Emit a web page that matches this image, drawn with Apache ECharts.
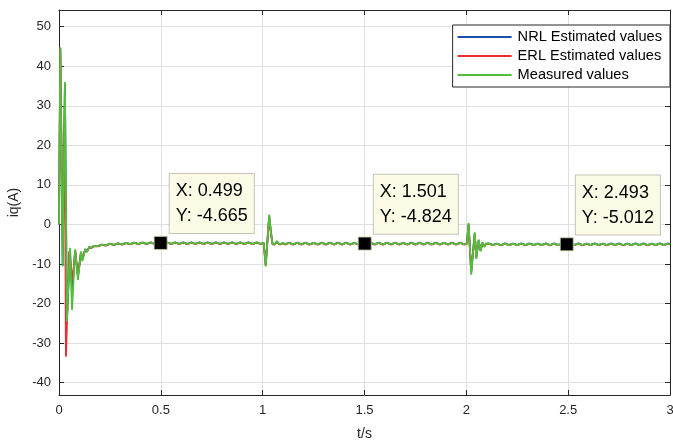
<!DOCTYPE html>
<html>
<head>
<meta charset="utf-8">
<script src="https://cdn.jsdelivr.net/npm/echarts@6/dist/echarts.min.js"></script>
<style>
  html, body { margin: 0; padding: 0; background: #fff; overflow: hidden; }
  #chart { width: 673px; height: 441px; }
</style>
</head>
<body>
<div id="chart"></div>
<script>
// q-axis current iq(A) over time t (s): start-up transient and two load steps

// start-up transient, measured and NRL estimate share these instants
const startT        = [0, 0.0064, 0.018, 0.029, 0.039, 0.054, 0.064, 0.079, 0.093, 0.108, 0.114, 0.129, 0.137, 0.149, 0.16, 0.17];
const startMeasured = [0, 44.8, -10.6, 36.0, -24.5, -5.9, -21.6, -6.3, -14.0, -6.8, -9.3, -6.3, -7.0, -5.6, -5.9, -5.4];
const startNrl      = [0, 44.6, -10.4, 35.6, -24.0, -6.2, -17.8, -6.6, -13.2, -7.0, -8.9, -6.2, -6.8, -5.7, -5.9, -5.5];
// start-up transient of the ERL estimate
const erlStartT     = [0, 0.0062, 0.019, 0.028, 0.034, 0.05, 0.066, 0.08, 0.093, 0.108, 0.114, 0.129, 0.137, 0.149, 0.16, 0.17];
const startErl      = [0, 44.0, -6.6, 30.0, -33.4, -6.8, -14.2, -6.6, -13.0, -7.0, -9.0, -6.3, -6.9, -5.7, -5.9, -5.5];

// remainder of the run (steady ripple, step at 1 s, step at 2 s)
const mainT = [
  0.19,0.21,0.23,0.25,0.27,0.29,0.31,0.33,0.35,0.37,
  0.39,0.41,0.43,0.45,0.47,0.49,0.499,0.51,0.53,0.55,
  0.57,0.59,0.61,0.63,0.65,0.67,0.69,0.71,0.73,0.75,
  0.77,0.79,0.81,0.83,0.85,0.87,0.89,0.91,0.93,0.95,
  0.97,0.99,1.005,
  1.009,1.015,1.032,1.040,1.048,1.058,1.07,1.08,1.09,1.1,
  1.11,1.13,1.15,1.17,1.19,1.21,1.23,1.25,1.27,1.29,
  1.31,1.33,1.35,1.37,1.39,1.41,1.43,1.45,1.47,1.49,
  1.501,1.51,1.53,1.55,1.57,1.59,1.61,1.63,1.65,1.67,
  1.69,1.71,1.73,1.75,1.77,1.79,1.81,1.83,1.85,1.87,
  1.89,1.91,1.93,1.95,1.97,1.99,
  2.003,2.011,2.024,2.041,2.049,2.060,2.070,2.080,2.088,2.096,2.104,
  2.11,2.13,2.15,2.17,2.19,2.21,2.23,2.25,2.27,2.29,
  2.31,2.33,2.35,2.37,2.39,2.41,2.43,2.45,2.47,2.493,
  2.51,2.53,2.55,2.57,2.59,2.61,2.63,2.65,2.67,2.69,
  2.71,2.73,2.75,2.77,2.79,2.81,2.83,2.85,2.87,2.89,
  2.91,2.93,2.95,2.97,2.99,3.0
];
const measuredIq = [
  -5.50,-5.10,-5.30,-4.85,-5.15,-4.75,-5.05,-4.65,-4.98,-4.58,
  -4.95,-4.55,-4.92,-4.52,-4.90,-4.52,-4.665,-4.90,-4.50,-4.92,
  -4.52,-4.90,-4.50,-4.93,-4.51,-4.90,-4.50,-4.92,-4.52,-4.91,
  -4.50,-4.92,-4.52,-4.90,-4.50,-4.93,-4.52,-4.90,-4.51,-4.92,
  -4.52,-4.90,-4.62,
  -4.9,-10.6,2.5,-1.5,-4.9,-5.1,-4.2,-4.9,-5.0,-4.6,
  -5.02,-4.62,-5.04,-4.63,-5.02,-4.62,-5.03,-4.64,-5.02,-4.62,
  -5.04,-4.62,-5.02,-4.63,-5.03,-4.62,-5.02,-4.64,-5.02,-4.62,
  -4.824,-5.03,-4.62,-5.02,-4.63,-5.04,-4.62,-5.02,-4.62,-5.03,
  -4.64,-5.02,-4.62,-5.04,-4.63,-5.02,-4.62,-5.03,-4.62,-5.02,
  -4.64,-5.02,-4.62,-5.03,-4.62,-5.02,
  -4.8,0.4,-12.7,-2.0,-8.7,-3.8,-6.8,-4.5,-5.7,-4.8,-5.3,
  -4.82,-5.20,-4.83,-5.21,-4.82,-5.20,-4.84,-5.20,-4.82,-5.22,
  -4.82,-5.20,-4.83,-5.20,-4.82,-5.21,-4.82,-5.20,-4.83,-5.012,
  -4.82,-5.20,-4.82,-5.21,-4.83,-5.20,-4.82,-5.20,-4.84,-5.21,
  -4.82,-5.20,-4.82,-5.22,-4.83,-5.20,-4.82,-5.20,-4.82,-5.21,
  -4.83,-5.20,-4.82,-5.20,-4.82,-5.00
];
const nrlIq = [
  -5.48,-5.12,-5.28,-4.87,-5.13,-4.77,-5.03,-4.67,-4.96,-4.60,
  -4.93,-4.57,-4.90,-4.54,-4.88,-4.54,-4.68,-4.88,-4.52,-4.90,
  -4.54,-4.88,-4.52,-4.91,-4.53,-4.88,-4.52,-4.90,-4.54,-4.89,
  -4.52,-4.90,-4.54,-4.88,-4.52,-4.91,-4.54,-4.88,-4.53,-4.90,
  -4.54,-4.88,-4.64,
  -4.9,-10.2,2.2,-1.8,-4.8,-5.0,-4.3,-4.9,-4.95,-4.7,
  -5.00,-4.60,-5.02,-4.61,-5.00,-4.60,-5.01,-4.62,-5.00,-4.60,
  -5.02,-4.60,-5.00,-4.61,-5.01,-4.60,-5.00,-4.62,-5.00,-4.60,
  -4.81,-5.01,-4.60,-5.00,-4.61,-5.02,-4.60,-5.00,-4.60,-5.01,
  -4.62,-5.00,-4.60,-5.02,-4.61,-5.00,-4.60,-5.01,-4.60,-5.00,
  -4.62,-5.00,-4.60,-5.01,-4.60,-5.00,
  -4.8,0.1,-12.2,-2.3,-8.4,-4.0,-6.6,-4.6,-5.6,-4.9,-5.2,
  -4.80,-5.18,-4.81,-5.19,-4.80,-5.18,-4.82,-5.18,-4.80,-5.20,
  -4.80,-5.18,-4.81,-5.18,-4.80,-5.19,-4.80,-5.18,-4.81,-4.99,
  -4.80,-5.18,-4.80,-5.19,-4.81,-5.18,-4.80,-5.18,-4.82,-5.19,
  -4.80,-5.18,-4.80,-5.20,-4.81,-5.18,-4.80,-5.18,-4.80,-5.19,
  -4.81,-5.18,-4.80,-5.18,-4.80,-4.98
];
const erlIq = [
  -5.56,-5.16,-5.36,-4.91,-5.21,-4.81,-5.11,-4.71,-5.04,-4.64,
  -5.01,-4.61,-4.98,-4.58,-4.96,-4.58,-4.72,-4.96,-4.56,-4.98,
  -4.58,-4.96,-4.56,-4.99,-4.57,-4.96,-4.56,-4.98,-4.58,-4.97,
  -4.56,-4.98,-4.58,-4.96,-4.56,-4.99,-4.58,-4.96,-4.57,-4.98,
  -4.58,-4.96,-4.68,
  -5.0,-10.4,2.0,-1.9,-5.0,-5.1,-4.4,-5.0,-5.0,-4.8,
  -5.08,-4.68,-5.10,-4.69,-5.08,-4.68,-5.09,-4.70,-5.08,-4.68,
  -5.10,-4.68,-5.08,-4.69,-5.09,-4.68,-5.08,-4.70,-5.08,-4.68,
  -4.88,-5.09,-4.68,-5.08,-4.69,-5.10,-4.68,-5.08,-4.68,-5.09,
  -4.70,-5.08,-4.68,-5.10,-4.69,-5.08,-4.68,-5.09,-4.68,-5.08,
  -4.70,-5.08,-4.68,-5.09,-4.68,-5.08,
  -4.9,-0.2,-11.8,-2.5,-8.2,-4.2,-6.5,-4.7,-5.6,-5.0,-5.2,
  -4.88,-5.26,-4.89,-5.27,-4.88,-5.26,-4.90,-5.26,-4.88,-5.28,
  -4.88,-5.26,-4.89,-5.26,-4.88,-5.27,-4.88,-5.26,-4.89,-5.07,
  -4.88,-5.26,-4.88,-5.27,-4.89,-5.26,-4.88,-5.26,-4.90,-5.27,
  -4.88,-5.26,-4.88,-5.28,-4.89,-5.26,-4.88,-5.26,-4.88,-5.27,
  -4.89,-5.26,-4.88,-5.26,-4.88,-5.06
];

// data tips
const tipT  = [0.499, 1.501, 2.493];
const tipIq = [-4.665, -4.824, -5.012];

// axis ticks
const xTicks = [0, 0.5, 1, 1.5, 2, 2.5, 3];
const yTicks = [-40, -30, -20, -10, 0, 10, 20, 30, 40, 50];

const seriesNames = ['NRL Estimated values', 'ERL Estimated values', 'Measured values'];

const zip = (ts, vs) => ts.map((t, i) => [t, vs[i]]);
const measuredPts = zip(startT, startMeasured).concat(zip(mainT, measuredIq));
const nrlPts = zip(startT, startNrl).concat(zip(mainT, nrlIq));
const erlPts = zip(erlStartT, startErl).concat(zip(mainT, erlIq));

const FONT = '"Liberation Sans", Arial, sans-serif';
const INK = '#262626';
const frameLine = { show: true, onZero: false, lineStyle: { color: INK, width: 1 } };
const inTicks = { show: true, inside: true, length: 5, lineStyle: { color: INK, width: 1 } };

const chart = echarts.init(document.getElementById('chart'), null, { renderer: 'canvas' });
chart.setOption({
  animation: false,
  backgroundColor: '#ffffff',
  textStyle: { fontFamily: FONT },
  grid: { left: 59, right: 3, top: 10, bottom: 46, containLabel: false, outerBoundsMode: 'none' },
  legend: {
    data: seriesNames,
    orient: 'vertical',
    right: 3,
    top: 25,
    padding: [4, 8, 4, 5],
    itemGap: 3,
    itemWidth: 54,
    itemHeight: 2,
    icon: 'rect',
    backgroundColor: '#ffffff',
    borderColor: INK,
    borderWidth: 1,
    borderRadius: 0,
    textStyle: { fontFamily: FONT, fontSize: 14.6, color: '#000', lineHeight: 16, padding: [0, 0, 0, 1] }
  },
  xAxis: [{
    type: 'value', min: 0, max: 3, interval: 0.5, position: 'bottom',
    axisLine: frameLine, axisTick: inTicks,
    axisLabel: { color: INK, fontSize: 13, margin: 9, fontFamily: FONT, customValues: xTicks },
    splitLine: { show: true, lineStyle: { color: '#E0E0E0', width: 1 } },
    name: 't/s', nameLocation: 'middle', nameGap: 32,
    nameTextStyle: { color: INK, fontSize: 14, fontFamily: FONT }
  }, {
    type: 'value', min: 0, max: 3, interval: 0.5, position: 'top',
    axisLine: frameLine, axisTick: inTicks,
    axisLabel: { show: false }, splitLine: { show: false }
  }],
  yAxis: [{
    type: 'value', min: -43.1, max: 54.2, position: 'left',
    axisLine: frameLine,
    axisTick: Object.assign({ customValues: yTicks }, inTicks),
    axisLabel: { color: INK, fontSize: 13, margin: 8, fontFamily: FONT, customValues: yTicks },
    splitLine: { show: true, lineStyle: { color: '#E0E0E0', width: 1 } },
    name: 'iq(A)', nameLocation: 'middle', nameGap: 33, nameRotate: 90,
    nameTextStyle: { color: INK, fontSize: 14, fontFamily: FONT }
  }, {
    type: 'value', min: -43.1, max: 54.2, position: 'right',
    axisLine: frameLine,
    axisTick: Object.assign({ customValues: yTicks }, inTicks),
    axisLabel: { show: false }, splitLine: { show: false }
  }],
  series: [{
    name: seriesNames[0], type: 'line', data: nrlPts, showSymbol: false, symbol: 'none',
    lineStyle: { color: '#1F4EAA', width: 1.8 }, itemStyle: { color: '#1F4EAA' }, z: 2
  }, {
    name: seriesNames[1], type: 'line', data: erlPts, showSymbol: false, symbol: 'none',
    lineStyle: { color: '#EE2A2E', width: 1.8 }, itemStyle: { color: '#EE2A2E' }, z: 3
  }, {
    name: seriesNames[2], type: 'line', data: measuredPts, showSymbol: false, symbol: 'none',
    lineStyle: { color: '#52BE3C', width: 1.8 }, itemStyle: { color: '#52BE3C' }, z: 4
  }, {
    name: 'tips', type: 'scatter', z: 10,
    data: zip(tipT, tipIq),
    symbol: 'rect', symbolSize: 13,
    itemStyle: { color: '#000', opacity: 1, borderColor: '#c8c8a0', borderWidth: 0.8 },
    label: {
      show: true,
      position: [16, -62],
      align: 'left', verticalAlign: 'top',
      formatter: p => 'X: ' + p.value[0].toFixed(3) + '\nY: ' + p.value[1].toFixed(3),
      fontFamily: FONT, fontSize: 18, lineHeight: 25, color: '#000',
      backgroundColor: '#FBFBE6', borderColor: '#C4C4B8', borderWidth: 1,
      padding: [5, 6, 4, 6]
    }
  }]
});
</script>
</body>
</html>
